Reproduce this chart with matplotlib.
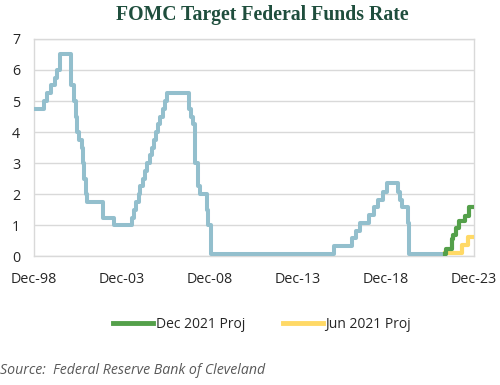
import matplotlib
matplotlib.use("Agg")
import matplotlib.pyplot as plt
import matplotlib.dates as mdates
import pandas as pd

# Fed funds target (step changes)
hist_dates = ["1998-12-01", "1999-06-30", "1999-08-24", "1999-11-16", "2000-02-02", "2000-03-21",
              "2000-05-16", "2001-01-03", "2001-03-20", "2001-04-18", "2001-05-15", "2001-06-27",
              "2001-08-21", "2001-09-17", "2001-10-02", "2001-11-06", "2001-12-11", "2002-11-06",
              "2003-06-25", "2004-06-30", "2004-08-10", "2004-09-21", "2004-11-10", "2004-12-14",
              "2005-02-02", "2005-03-22", "2005-05-03", "2005-06-30", "2005-08-09", "2005-09-20",
              "2005-11-01", "2005-12-13", "2006-01-31", "2006-03-28", "2006-05-10", "2006-06-29",
              "2007-09-18", "2007-10-31", "2007-12-11", "2008-01-22", "2008-01-30", "2008-03-18",
              "2008-04-30", "2008-10-08", "2008-10-29", "2008-12-16", "2015-12-17", "2016-12-15",
              "2017-03-16", "2017-06-15", "2017-12-14", "2018-03-22", "2018-06-14", "2018-09-27",
              "2018-12-20", "2019-08-01", "2019-09-19", "2019-10-31", "2020-03-04", "2020-03-16",
              "2022-04-15"]
hist_rates = [4.75, 5.00, 5.25, 5.50, 5.75, 6.00,
              6.50, 5.50, 5.00, 4.50, 4.00, 3.75,
              3.50, 3.00, 2.50, 2.00, 1.75, 1.25,
              1.00, 1.25, 1.50, 1.75, 2.00, 2.25,
              2.50, 2.75, 3.00, 3.25, 3.50, 3.75,
              4.00, 4.25, 4.50, 4.75, 5.00, 5.25,
              4.75, 4.50, 4.25, 3.50, 3.00, 2.25,
              2.00, 1.50, 1.00, 0.08, 0.33, 0.58,
              0.83, 1.08, 1.33, 1.58, 1.83, 2.08,
              2.35, 2.08, 1.83, 1.58, 1.08, 0.08,
              0.08]

dec21_dates = ["2022-04-15", "2022-05-01", "2022-09-01", "2022-10-01", "2022-12-01", "2023-02-01",
               "2023-06-01", "2023-08-15", "2023-12-01"]
dec21_rates = [0.08, 0.25, 0.55, 0.70, 0.90, 1.15, 1.30, 1.60, 1.60]

jun21_dates = ["2022-04-15", "2023-04-01", "2023-08-01", "2023-12-01"]
jun21_rates = [0.12, 0.37, 0.62, 0.62]

yticks = [0, 1, 2, 3, 4, 5, 6, 7]
xtick_dates = ["1998-12-01", "2003-12-01", "2008-12-01", "2013-12-01", "2018-12-01", "2023-12-01"]

plt.rcParams['font.family'] = ['Open Sans', 'DejaVu Sans']

fig = plt.figure(figsize=(5.0, 3.85), dpi=100)
ax = fig.add_axes([0.068, 0.334, 0.880, 0.565])

ax.plot(pd.to_datetime(hist_dates), hist_rates, drawstyle='steps-post', color='#93bfcd', lw=2.9,
        zorder=3)
ax.plot(pd.to_datetime(dec21_dates), dec21_rates, drawstyle='steps-post', color='#54a04a', lw=3.0,
        label='Dec 2021 Proj', zorder=4)
ax.plot(pd.to_datetime(jun21_dates), jun21_rates, drawstyle='steps-post', color='#ffd966', lw=3.0,
        label='Jun 2021 Proj', zorder=3.5)

ax.set_xlim(pd.Timestamp("1998-12-01"), pd.Timestamp("2023-12-01"))
ax.set_ylim(0, 7)
ax.set_yticks(yticks)
ax.set_xticks(pd.to_datetime(xtick_dates))
ax.xaxis.set_major_formatter(mdates.DateFormatter('%b-%y'))
ax.grid(axis='y', color='#d9d9d9', lw=1.0)
ax.set_axisbelow(True)
for s in ax.spines.values():
    s.set_color('#d9d9d9')
    s.set_linewidth(1.0)
ax.tick_params(length=0, labelsize=10.3, colors='#262626')
ax.tick_params(axis='x', pad=11)
ax.tick_params(axis='y', pad=10)

fig.text(0.524, 0.962, 'FOMC Target Federal Funds Rate', ha='center', va='center',
         family=['Liberation Serif'], fontweight='bold', fontsize=14.2, color='#1f4e3d')

leg = fig.legend(loc='center', bbox_to_anchor=(0.524, 0.158), ncol=2, frameon=False,
                 fontsize=10.0, handlelength=2.9, handletextpad=0.2, columnspacing=2.7)
for line in leg.get_lines():
    line.set_linewidth(3.5)
for t in leg.get_texts():
    t.set_color('#262626')

fig.text(0.0, 0.038, 'Source:  Federal Reserve Bank of Cleveland', ha='left', va='center',
         fontsize=10.2, style='italic', color='#595959')

fig.savefig('out.png', dpi=100)
